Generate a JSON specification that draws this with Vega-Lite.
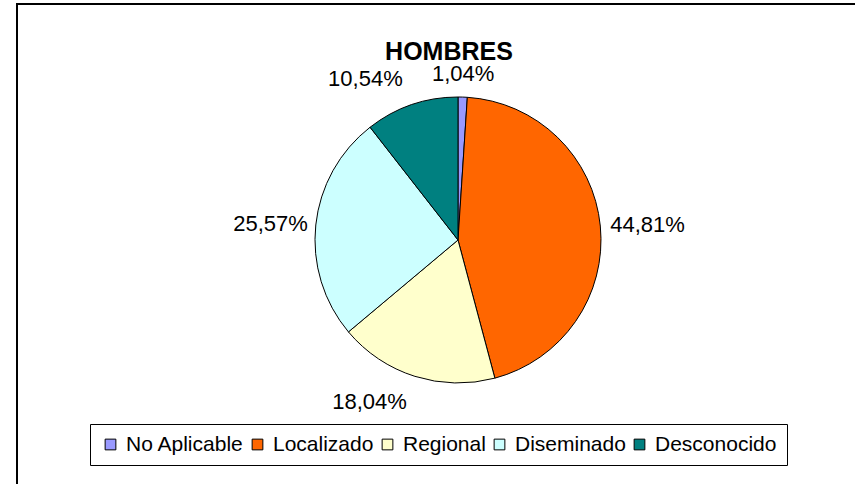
{
  "$schema": "https://vega.github.io/schema/vega-lite/v6.json",
  "autosize": {"type": "none"},
  "width": 848,
  "height": 490,
  "padding": {"left": 17, "top": 4, "right": -10, "bottom": -10},
  "background": "white",
  "view": {"stroke": "black", "strokeWidth": 2, "fill": "white"},
  "config": {
    "font": "Liberation Sans",
    "locale": {
      "number": {"decimal": ",", "thousands": ".", "grouping": [3], "currency": ["", " €"]}
    }
  },
  "title": {
    "text": "HOMBRES",
    "fontSize": 25,
    "fontWeight": "bold",
    "font": "Liberation Sans",
    "color": "black",
    "anchor": "middle",
    "frame": "group",
    "dx": 8,
    "offset": -61
  },
  "data": {
    "values": [
      {"categoria": "No Aplicable", "porcentaje": 0.0104, "orden": 1},
      {"categoria": "Localizado", "porcentaje": 0.4481, "orden": 2},
      {"categoria": "Regional", "porcentaje": 0.1804, "orden": 3},
      {"categoria": "Diseminado", "porcentaje": 0.2557, "orden": 4},
      {"categoria": "Desconocido", "porcentaje": 0.1054, "orden": 5}
    ]
  },
  "encoding": {
    "theta": {"field": "porcentaje", "type": "quantitative", "stack": true},
    "order": {"field": "orden", "type": "quantitative"}
  },
  "layer": [
    {
      "mark": {"type": "arc", "outerRadius": 143, "stroke": "black", "strokeWidth": 1, "xOffset": 17, "yOffset": -9},
      "encoding": {
        "color": {
          "field": "categoria",
          "type": "nominal",
          "scale": {
            "domain": ["No Aplicable", "Localizado", "Regional", "Diseminado", "Desconocido"],
            "range": ["#9999FF", "#FF6600", "#FFFFCC", "#CCFFFF", "#008080"]
          },
          "legend": {
            "title": null,
            "orient": "none",
            "legendX": 73,
            "legendY": 420,
            "direction": "horizontal",
            "columns": 5,
            "gridAlign": "none",
            "columnPadding": 3,
            "labelOffset": 5,
            "labelFont": "Liberation Sans",
            "labelFontSize": 21,
            "labelColor": "black",
            "symbolType": "square",
            "symbolSize": 115,
            "symbolStrokeColor": "black",
            "symbolStrokeWidth": 1,
            "strokeColor": "black",
            "padding": 10,
            "fillColor": "white"
          }
        }
      }
    },
    {
      "mark": {"type": "text", "radius": 153, "xOffset": 17, "yOffset": -9, "fontSize": 22, "font": "Liberation Sans", "color": "black", "align": "left", "baseline": "middle"},
      "encoding": {
        "text": {"condition": {"test": "datum.categoria === 'Localizado'", "field": "porcentaje", "type": "quantitative", "format": ".2%"}, "value": ""}
      }
    },
    {
      "mark": {"type": "text", "radius": 151, "xOffset": 17, "yOffset": -9, "fontSize": 22, "font": "Liberation Sans", "color": "black", "align": "right", "baseline": "middle"},
      "encoding": {
        "text": {"condition": {"test": "datum.categoria === 'Diseminado'", "field": "porcentaje", "type": "quantitative", "format": ".2%"}, "value": ""}
      }
    },
    {
      "mark": {"type": "text", "radius": 170, "xOffset": 17, "yOffset": -9, "fontSize": 22, "font": "Liberation Sans", "color": "black", "align": "right", "baseline": "middle"},
      "encoding": {
        "text": {"condition": {"test": "datum.categoria === 'Regional' || datum.categoria === 'Desconocido'", "field": "porcentaje", "type": "quantitative", "format": ".2%"}, "value": ""}
      }
    },
    {
      "mark": {"type": "text", "radius": 159, "xOffset": 17, "yOffset": -9, "fontSize": 22, "font": "Liberation Sans", "color": "black", "align": "center", "baseline": "alphabetic"},
      "encoding": {
        "text": {"condition": {"test": "datum.categoria === 'No Aplicable'", "field": "porcentaje", "type": "quantitative", "format": ".2%"}, "value": ""}
      }
    }
  ]
}
